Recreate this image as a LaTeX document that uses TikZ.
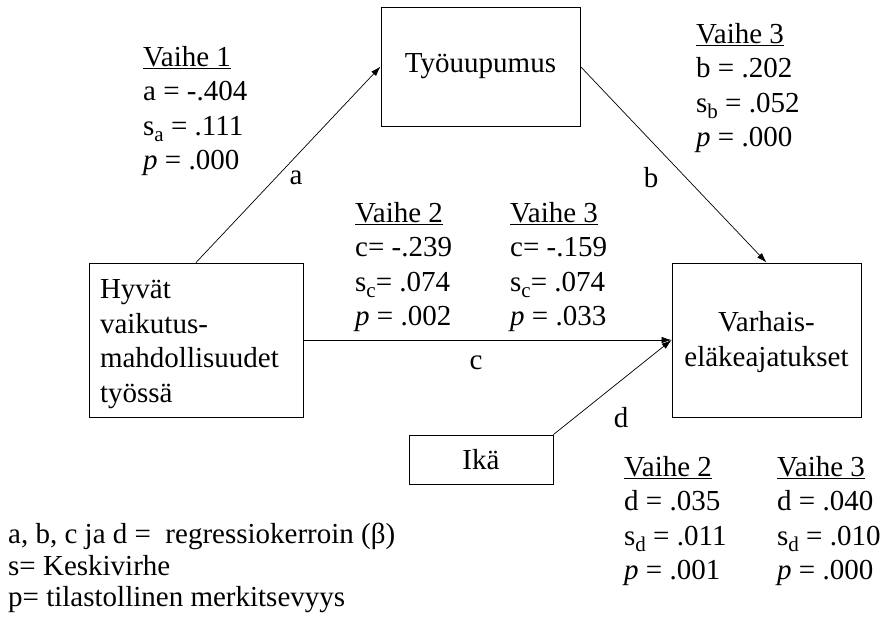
\documentclass[tikz,border=0pt]{standalone}
\usepackage{fontspec}
\setmainfont{Liberation Serif}
\usetikzlibrary{arrows.meta}

\newcommand{\sbs}[1]{\raisebox{-0.22em}{\fontsize{21}{21}\selectfont #1}}

\tikzset{
  box/.style={draw, line width=0.9pt, inner sep=0pt},
  txt/.style={anchor=north west, inner sep=0pt, align=left},
  conn/.style={line width=0.7pt, -{Latex[length=10pt,width=6.5pt]}}
}

\begin{document}
\begin{tikzpicture}[x=1pt, y=-1pt, font=\fontsize{29}{34.5}\selectfont]
\useasboundingbox (0,0) rectangle (882,627);

\node[box, minimum width=199pt, minimum height=119pt] (tyo) at (480.5,66.5) {Työuupumus};
\node[box, minimum width=214pt, minimum height=154pt, text width=192pt, align=left] (hyv) at (196,340) {\rule{0pt}{27pt}Hyvät\\vaikutus-\\mahdollisuudet\\työssä};
\node[box, minimum width=189pt, minimum height=154pt, align=center] (var) at (766.5,340) {\rule{0pt}{24pt}Varhais-\\eläkeajatukset};
\node[box, minimum width=144pt, minimum height=49pt] (ika) at (481,459.5) {Ikä};

\draw[conn] (hyv.north) -- (tyo.west);
\draw[conn] (tyo.east) -- (var.north);
\draw[conn] (hyv.east) -- (var.west);
\draw[conn] (ika.north east) -- (var.west);

\node (la) at (296,178) {a};
\node (lb) at (651,178) {b};
\node (lc) at (476,363) {c};
\node (ld) at (621,418) {d};

\node[txt] (v1) at (143,46) {\underline{Vaihe 1}\\a = -.404\\s\sbs{a} = .111\\\textit{p} = .000};
\node[txt] (v3b) at (696,23) {\underline{Vaihe 3}\\b = .202\\s\sbs{b} = .052\\\textit{p} = .000};
\node[txt] (v2c) at (355,202) {\underline{Vaihe 2}\\c= -.239\\s\sbs{c}= .074\\\textit{p} = .002};
\node[txt] (v3c) at (510,202) {\underline{Vaihe 3}\\c= -.159\\s\sbs{c}= .074\\\textit{p} = .033};
\node[txt] (v2d) at (624,456) {\underline{Vaihe 2}\\d = .035\\s\sbs{d} = .011\\\textit{p} = .001};
\node[txt] (v3d) at (777,456) {\underline{Vaihe 3}\\d = .040\\s\sbs{d} = .010\\\textit{p} = .000};

\node[txt] (leg) at (8,523) {a, b, c ja d =\ \ regressiokerroin (β)\\[-3pt]s= Keskivirhe\\[-3pt]p= tilastollinen merkitsevyys};

\end{tikzpicture}
\end{document}
